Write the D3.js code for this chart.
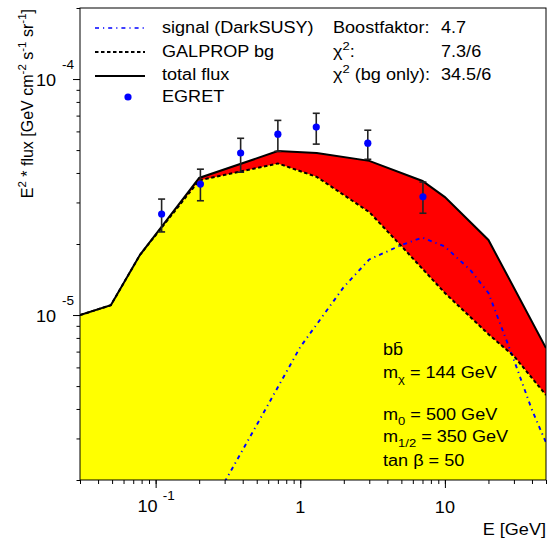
<!DOCTYPE html>
<html><head><meta charset="utf-8">
<script src="https://cdn.jsdelivr.net/npm/d3@7/dist/d3.min.js"></script>
<style>
html,body{margin:0;padding:0;background:#fff;}
text{font-family:"Liberation Sans",Arial,Helvetica,sans-serif;white-space:pre;fill:#000;}
</style></head>
<body><svg id="c" width="547" height="542"></svg>
<script>
// ---------------- data ----------------
const totE    = [0.03, 0.049, 0.078, 0.2, 0.7, 1.3, 3, 7, 10, 20, 50];
const totFlux = [1.0e-5, 1.10e-5, 1.80e-5, 3.81e-5, 4.95e-5, 4.86e-5, 4.50e-5, 3.70e-5, 3.16e-5, 2.08e-5, 7.25e-6];

const bgE    = [0.03, 0.049, 0.078, 0.2, 0.7, 1.3, 3, 5, 10, 20, 30, 50];
const bgFlux = [1.0e-5, 1.10e-5, 1.80e-5, 3.72e-5, 4.39e-5, 3.85e-5, 2.73e-5, 1.96e-5, 1.24e-5, 8.3e-6, 6.7e-6, 4.58e-6];

const sigE    = [0.3, 0.5, 1, 2, 3, 5, 7, 10, 15, 20, 30, 40, 50];
const sigFlux = [1.96e-6, 3.42e-6, 7.32e-6, 1.315e-5, 1.72e-5, 1.98e-5, 2.13e-5, 1.95e-5, 1.55e-5, 1.24e-5, 6.45e-6, 3.96e-6, 2.88e-6];

const egretE    = [0.11, 0.204, 0.387, 0.70, 1.29, 2.93, 7.05];
const egretFlux = [2.68e-5, 3.59e-5, 4.86e-5, 5.84e-5, 6.26e-5, 5.35e-5, 3.17e-5];
const egretLo   = [2.25e-5, 3.05e-5, 4.03e-5, 4.94e-5, 5.30e-5, 4.57e-5, 2.70e-5];
const egretHi   = [3.10e-5, 4.15e-5, 5.61e-5, 6.68e-5, 7.16e-5, 6.07e-5, 3.66e-5];

const xDomain = [0.03, 50];
const yDomain = [2e-6, 2e-4];
const xMajor = [0.1, 1, 10];
const xMajorLabels = [["10", "-1"], ["1", ""], ["10", ""]];
const yMajor = [1e-5, 1e-4];
const yMajorLabels = [["10", "-5"], ["10", "-4"]];

const legendItems = ["signal (DarkSUSY)", "GALPROP bg", "total flux", "EGRET"];

// ---------------- layout ----------------
const L = 80, R = 546, T = 8, B = 480;
const SX = 1.13;
const svg = d3.select("#c");
const x = d3.scaleLog().domain(xDomain).range([L, R]);
const y = d3.scaleLog().domain(yDomain).range([B, T]);

function rich(sel, px, py, parts, opt = {}) {
  const size = opt.size || 16;
  const tr = opt.rotate ? `translate(${px},${py}) rotate(${opt.rotate})` : `translate(${px},${py}) scale(${opt.sx || SX},1)`;
  const t = sel.append("text").attr("transform", tr).attr("text-anchor", opt.anchor || "start").attr("font-size", size);
  let cur = 0;
  parts.forEach(p => {
    const [s, type] = typeof p === "string" ? [p, "n"] : p;
    const target = type === "sup" ? -0.44 * size : type === "sub" ? 0.3 * size : 0;
    t.append("tspan").attr("dy", target - cur).attr("font-size", type === "n" ? size : size * 0.72).text(s);
    cur = target;
  });
  return t;
}

svg.append("defs").append("clipPath").attr("id", "clip")
  .append("rect").attr("x", L).attr("y", T).attr("width", R - L).attr("height", B - T);

const plot = svg.append("g").attr("clip-path", "url(#clip)");
const pairs = (E, F) => E.map((e, i) => [e, F[i]]);
const area = d3.area().x(d => x(d[0])).y0(B).y1(d => y(d[1]));
const line = d3.line().x(d => x(d[0])).y(d => y(d[1]));

plot.append("path").attr("d", area(pairs(totE, totFlux))).attr("fill", "#ff0000");
plot.append("path").attr("d", area(pairs(bgE, bgFlux))).attr("fill", "#ffff00");
plot.append("path").attr("d", line(pairs(sigE, sigFlux))).attr("fill", "none")
  .attr("stroke", "#0000ff").attr("stroke-width", 1.9).attr("stroke-dasharray", "4,4,1.2,4");
plot.append("path").attr("d", line(pairs(bgE, bgFlux))).attr("fill", "none")
  .attr("stroke", "#000").attr("stroke-width", 2).attr("stroke-dasharray", "3.5,2.5");
plot.append("path").attr("d", line(pairs(totE, totFlux))).attr("fill", "none")
  .attr("stroke", "#000").attr("stroke-width", 2);

// EGRET points
const eg = plot.append("g");
egretE.forEach((e, i) => {
  const cx = x(e);
  eg.append("line").attr("x1", cx).attr("x2", cx).attr("y1", y(egretLo[i])).attr("y2", y(egretHi[i]))
    .attr("stroke", "#222").attr("stroke-width", 1.6);
  [egretLo[i], egretHi[i]].forEach(v => eg.append("line").attr("x1", cx - 3.5).attr("x2", cx + 3.5)
    .attr("y1", y(v)).attr("y2", y(v)).attr("stroke", "#222").attr("stroke-width", 1.6));
  eg.append("circle").attr("cx", cx).attr("cy", y(egretFlux[i])).attr("r", 3.6).attr("fill", "#0000ff");
});

// axes
const gx = svg.append("g").attr("transform", `translate(0,${B})`);
gx.call(d3.axisBottom(x).tickValues(x.ticks()).tickSize(4).tickFormat(""));
gx.append("g").call(d3.axisBottom(x).tickValues(xMajor).tickSize(8).tickFormat(""));
const gy = svg.append("g").attr("transform", `translate(${L},0)`);
gy.call(d3.axisLeft(y).tickValues(y.ticks()).tickSize(3.5).tickFormat(""));
gy.append("g").call(d3.axisLeft(y).tickValues(yMajor).tickSize(7).tickFormat(""));
svg.selectAll(".domain").remove();
svg.selectAll(".tick line").attr("stroke", "#000");

svg.append("rect").attr("x", L).attr("y", T).attr("width", R - L).attr("height", B - T)
  .attr("fill", "none").attr("stroke", "#000").attr("stroke-width", 1);

// tick labels
xMajor.forEach((v, i) => {
  const [base, ex] = xMajorLabels[i];
  const px = x(v);
  if (ex) {
    rich(svg, px + 2, 512, [base], { anchor: "end" });
    rich(svg, px + 7, 500, [ex], { size: 12 });
  } else {
    rich(svg, px, 513, [base], { anchor: "middle" });
  }
});
yMajor.forEach((v, i) => {
  const [base, ex] = yMajorLabels[i];
  const py = y(v);
  rich(svg, 56, py + 6.5, [base], { anchor: "end" });
  rich(svg, 62, py - 10.5, [ex], { size: 12 });
});

// axis titles
rich(svg, 546, 535, ["E [GeV]"], { anchor: "end" });
rich(svg, 33, 9, ["E", ["2", "sup"], " * flux [GeV cm", ["-2", "sup"], " s", ["-1", "sup"], " sr", ["-1", "sup"], "]"],
  { anchor: "end", rotate: -90 });

// legend
const lg = svg.append("g");
const rowsY = [28, 52, 76, 97];
const baseY = [32.5, 56.7, 80, 101.7];
lg.append("line").attr("x1", 95).attr("x2", 145).attr("y1", rowsY[0]).attr("y2", rowsY[0])
  .attr("stroke", "#0000ff").attr("stroke-width", 1.6).attr("stroke-dasharray", "4,4,1.2,4");
lg.append("line").attr("x1", 95).attr("x2", 145).attr("y1", rowsY[1]).attr("y2", rowsY[1])
  .attr("stroke", "#000").attr("stroke-width", 2).attr("stroke-dasharray", "3.5,2.5");
lg.append("line").attr("x1", 95).attr("x2", 145).attr("y1", rowsY[2]).attr("y2", rowsY[2])
  .attr("stroke", "#000").attr("stroke-width", 2);
lg.append("circle").attr("cx", 128).attr("cy", rowsY[3]).attr("r", 3.6).attr("fill", "#0000ff");
legendItems.forEach((s, i) => rich(lg, 162, baseY[i], [s]));

rich(lg, 333, baseY[0], ["Boostfaktor:"]);
rich(lg, 441, baseY[0], ["4.7"]);
rich(lg, 333, baseY[1], ["χ", ["2", "sup"], ":"]);
rich(lg, 441, baseY[1], ["7.3/6"]);
rich(lg, 333, baseY[2], ["χ", ["2", "sup"], " (bg only):"]);
rich(lg, 441, baseY[2], ["34.5/6"]);

// annotation
const an = svg.append("g");
rich(an, 383, 355, ["bb\u0304"]);
rich(an, 383, 378, ["m", ["χ", "sub"], " = 144 GeV"]);
rich(an, 383, 420, ["m", ["0", "sub"], " = 500 GeV"]);
rich(an, 383, 442, ["m", ["1/2", "sub"], " = 350 GeV"]);
rich(an, 383, 466, ["tan β = 50"]);
</script></body></html>
